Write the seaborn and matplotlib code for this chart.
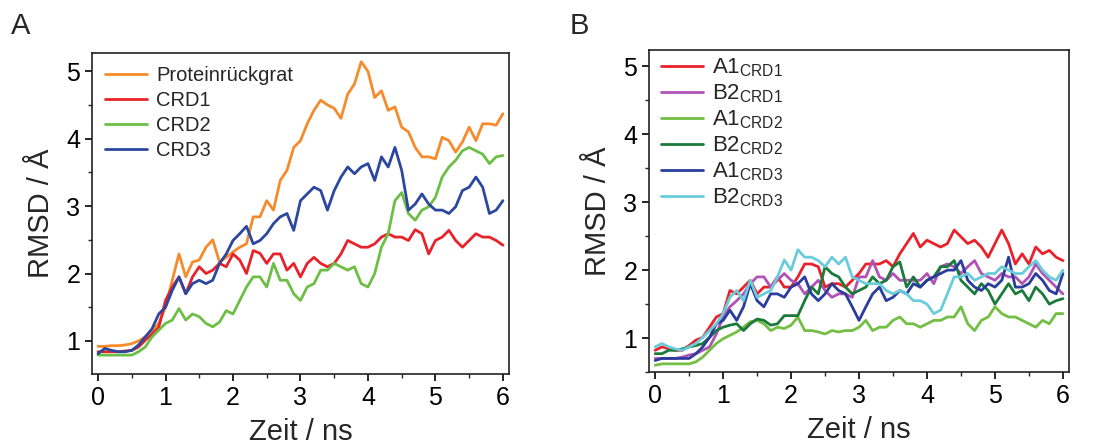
import numpy as np
import pandas as pd
import matplotlib
matplotlib.use("Agg")
import matplotlib.pyplot as plt
import seaborn as sns

# ---------------- data ----------------
time_ns = [round(0.1 * i, 1) for i in range(61)]

# Panel A
protein = [0.92, 0.92, 0.93, 0.93, 0.94, 0.96, 1.00, 1.06, 1.15, 1.26,
           1.50, 1.90, 2.29, 1.95, 2.17, 2.20, 2.39, 2.50, 2.17, 2.24,
           2.32, 2.39, 2.44, 2.84, 2.84, 3.08, 2.94, 3.38, 3.53, 3.87,
           3.97, 4.22, 4.42, 4.57, 4.50, 4.45, 4.30, 4.66, 4.81, 5.14,
           5.00, 4.61, 4.71, 4.42, 4.47, 4.17, 4.10, 3.87, 3.73, 3.73,
           3.70, 4.02, 3.97, 3.80, 3.95, 4.17, 3.97, 4.22, 4.22, 4.20, 4.37]
crd1 = [0.84, 0.84, 0.84, 0.84, 0.85, 0.86, 0.91, 1.01, 1.10, 1.20,
        1.60, 1.80, 1.95, 1.70, 1.95, 2.10, 2.00, 2.05, 2.15, 2.10,
        2.29, 2.20, 2.00, 2.34, 2.30, 2.15, 2.29, 2.29, 2.05, 2.15,
        1.95, 2.15, 2.24, 2.15, 2.10, 2.15, 2.29, 2.49, 2.44, 2.39,
        2.39, 2.44, 2.54, 2.59, 2.54, 2.54, 2.49, 2.65, 2.59, 2.29,
        2.49, 2.54, 2.64, 2.49, 2.39, 2.49, 2.59, 2.54, 2.54, 2.49, 2.42]
crd2 = [0.79, 0.79, 0.79, 0.79, 0.79, 0.79, 0.84, 0.91, 1.06, 1.16,
        1.26, 1.31, 1.48, 1.31, 1.40, 1.36, 1.26, 1.21, 1.28, 1.45,
        1.40, 1.60, 1.80, 1.95, 1.95, 1.80, 2.15, 1.90, 1.90, 1.70,
        1.60, 1.80, 1.85, 2.05, 2.05, 2.15, 2.10, 2.05, 2.10, 1.85,
        1.80, 2.00, 2.39, 2.59, 3.08, 3.20, 2.89, 2.79, 2.94, 2.99,
        3.13, 3.43, 3.58, 3.68, 3.82, 3.87, 3.82, 3.77, 3.63, 3.73, 3.75]
crd3 = [0.81, 0.89, 0.86, 0.84, 0.84, 0.86, 0.94, 1.06, 1.18, 1.40,
        1.50, 1.75, 1.95, 1.70, 1.85, 1.90, 1.85, 1.90, 2.15, 2.29,
        2.49, 2.59, 2.70, 2.44, 2.49, 2.59, 2.74, 2.84, 2.89, 2.64,
        3.08, 3.18, 3.28, 3.23, 2.94, 3.23, 3.43, 3.58, 3.48, 3.58,
        3.63, 3.38, 3.73, 3.58, 3.87, 3.53, 2.94, 3.03, 3.18, 3.03,
        2.94, 2.94, 2.89, 2.99, 3.23, 3.28, 3.43, 3.28, 2.89, 2.94, 3.08]
labels_a = ["Proteinrückgrat", "CRD1", "CRD2", "CRD3"]
colors_a = ["#F68B2C", "#E8222B", "#6DBE45", "#2B479E"]

# Panel B
a1_crd1 = [0.82, 0.87, 0.84, 0.82, 0.82, 0.89, 0.97, 1.01, 1.16, 1.31,
           1.36, 1.70, 1.65, 1.75, 1.85, 1.65, 1.75, 1.75, 1.90, 1.75,
           1.75, 1.90, 2.09, 2.09, 2.05, 1.75, 1.80, 1.80, 1.75, 1.85,
           1.95, 2.09, 2.09, 2.09, 2.14, 2.05, 2.24, 2.39, 2.54, 2.34,
           2.44, 2.39, 2.34, 2.39, 2.59, 2.49, 2.39, 2.44, 2.34, 2.19,
           2.39, 2.59, 2.39, 2.09, 2.24, 2.09, 2.34, 2.24, 2.29, 2.19, 2.14]
b2_crd1 = [0.70, 0.70, 0.70, 0.70, 0.72, 0.75, 0.77, 0.82, 0.87, 1.06,
           1.31, 1.46, 1.55, 1.65, 1.80, 1.90, 1.90, 1.75, 1.85, 1.95,
           1.85, 1.80, 1.65, 1.75, 1.85, 1.70, 1.60, 1.65, 1.65, 1.60,
           1.90, 1.90, 2.14, 1.90, 1.85, 1.95, 1.85, 1.85, 1.85, 1.85,
           1.95, 1.80, 2.05, 2.09, 2.05, 1.95, 2.05, 2.14, 1.95, 1.90,
           1.85, 1.95, 1.90, 1.90, 1.80, 1.90, 2.09, 1.95, 1.85, 1.75, 1.65]
a1_crd2 = [0.60, 0.62, 0.62, 0.62, 0.62, 0.62, 0.65, 0.72, 0.82, 0.92,
           0.99, 1.04, 1.09, 1.16, 1.24, 1.26, 1.21, 1.11, 1.16, 1.14,
           1.19, 1.31, 1.11, 1.11, 1.09, 1.06, 1.11, 1.09, 1.11, 1.11,
           1.16, 1.26, 1.11, 1.16, 1.16, 1.26, 1.31, 1.21, 1.21, 1.16,
           1.21, 1.26, 1.26, 1.31, 1.31, 1.46, 1.21, 1.11, 1.26, 1.31,
           1.46, 1.36, 1.31, 1.31, 1.26, 1.21, 1.16, 1.26, 1.21, 1.36, 1.36]
b2_crd2 = [0.77, 0.77, 0.82, 0.82, 0.84, 0.87, 0.89, 0.92, 1.01, 1.11,
           1.16, 1.19, 1.21, 1.11, 1.21, 1.28, 1.26, 1.19, 1.21, 1.33,
           1.33, 1.33, 1.55, 1.75, 1.65, 2.05, 1.95, 1.90, 1.75, 1.65,
           1.70, 1.75, 1.90, 1.80, 1.85, 2.05, 2.12, 1.75, 1.90, 1.75,
           1.85, 1.90, 2.05, 2.05, 2.14, 1.85, 1.75, 1.65, 1.80, 1.70,
           1.50, 1.65, 1.80, 1.65, 1.70, 1.55, 1.75, 1.65, 1.50, 1.55, 1.58]
a1_crd3 = [0.67, 0.70, 0.70, 0.70, 0.70, 0.70, 0.77, 0.87, 1.01, 1.21,
           1.26, 1.41, 1.26, 1.46, 1.80, 1.55, 1.46, 1.65, 1.65, 1.60,
           1.75, 1.80, 1.90, 1.65, 1.55, 1.65, 1.80, 1.70, 1.65, 1.46,
           1.26, 1.46, 1.65, 1.75, 1.55, 1.60, 1.70, 1.65, 1.80, 1.75,
           1.85, 1.90, 1.95, 2.00, 2.00, 2.14, 1.85, 1.75, 1.70, 1.80,
           1.75, 1.85, 2.19, 1.75, 1.75, 1.80, 1.95, 1.85, 1.70, 1.65, 1.95]
b2_crd3 = [0.87, 0.92, 0.87, 0.84, 0.82, 0.87, 0.92, 1.01, 1.11, 1.21,
           1.36, 1.60, 1.70, 1.55, 1.85, 1.60, 1.65, 1.70, 1.90, 2.15,
           2.00, 2.30, 2.19, 2.19, 2.14, 2.05, 2.19, 2.09, 2.19, 1.90,
           1.85, 1.80, 1.80, 1.80, 1.70, 1.65, 1.70, 1.65, 1.55, 1.55,
           1.50, 1.36, 1.41, 1.65, 1.90, 1.90, 1.95, 1.85, 1.90, 1.95,
           1.95, 2.05, 2.00, 1.95, 1.95, 2.05, 2.14, 2.00, 1.90, 1.85, 2.00]
labels_b = ["A1$_{\\mathrm{CRD1}}$", "B2$_{\\mathrm{CRD1}}$", "A1$_{\\mathrm{CRD2}}$",
            "B2$_{\\mathrm{CRD2}}$", "A1$_{\\mathrm{CRD3}}$", "B2$_{\\mathrm{CRD3}}$"]
colors_b = ["#E8222B", "#B152B5", "#72BF44", "#1A7A3B", "#2A3C9C", "#6ACCDA"]

x_ticks = [0, 1, 2, 3, 4, 5, 6]
y_ticks = [1, 2, 3, 4, 5]

# ---------------- style ----------------
sns.set_style("ticks")
plt.rcParams["font.family"] = ["Liberation Sans", "DejaVu Sans"]
plt.rcParams["mathtext.fontset"] = "custom"
plt.rcParams["mathtext.rm"] = "Liberation Sans"
plt.rcParams["mathtext.it"] = "Liberation Sans:italic"
plt.rcParams["mathtext.bf"] = "Liberation Sans:bold"

df_a = pd.DataFrame({"t": time_ns * 4,
                     "rmsd": protein + crd1 + crd2 + crd3,
                     "series": sum([[l] * len(time_ns) for l in labels_a], [])})
df_b = pd.DataFrame({"t": time_ns * 6,
                     "rmsd": a1_crd1 + b2_crd1 + a1_crd2 + b2_crd2 + a1_crd3 + b2_crd3,
                     "series": sum([[l] * len(time_ns) for l in labels_b], [])})

fig = plt.figure(figsize=(10.96, 4.48), dpi=100)
ax_a = fig.add_axes([0.0839, 0.1652, 0.3805, 0.7165])
ax_b = fig.add_axes([0.5922, 0.1696, 0.3832, 0.7188])

for ax, df, labels, colors, ylim, fs, lsp, bpad, hoff in [
        (ax_a, df_a, labels_a, colors_a, (0.51, 5.27), 14.5, 0.30, 0.4, 0.0),
        (ax_b, df_b, labels_b, colors_b, (0.50, 5.24), 16.0, 0.15, 0.05, 0.012)]:
    sns.lineplot(data=df, x="t", y="rmsd", hue="series", hue_order=labels,
                 palette=colors, linewidth=2.0, ax=ax, legend=True)
    ax.set_xticks(x_ticks)
    ax.set_yticks(y_ticks)
    ax.set_xticks([v + 0.5 for v in x_ticks[:-1]], minor=True)
    ax.set_yticks([0.5] + [v + 0.5 for v in y_ticks], minor=True)
    ax.set_xlim(-0.09, 6.09)
    ax.set_ylim(*ylim)
    ax.tick_params(which="major", direction="out", length=5, width=1.2,
                   labelsize=18, colors="black", top=False, right=False)
    ax.tick_params(which="minor", direction="out", length=3, width=1.0,
                   top=False, right=False)
    for s in ax.spines.values():
        s.set_linewidth(1.2)
        s.set_color("#222222")
        s.set_visible(True)
    ax.set_xlabel("Zeit / ns", fontsize=21, labelpad=6)
    ax.set_ylabel("RMSD / Å", fontsize=21, labelpad=8)
    handles, _ = ax.get_legend_handles_labels()
    ax.legend(handles, labels, loc="upper left", frameon=False, fontsize=fs,
              handlelength=2.1 * 14.5 / fs, handletextpad=0.45 * 14.5 / fs,
              labelspacing=lsp, borderpad=bpad,
              borderaxespad=0.25, bbox_to_anchor=(hoff, 1.0))

fig.text(0.010, 0.925, "A", fontsize=21)
fig.text(0.520, 0.925, "B", fontsize=21)

fig.savefig("out.png", dpi=100)
